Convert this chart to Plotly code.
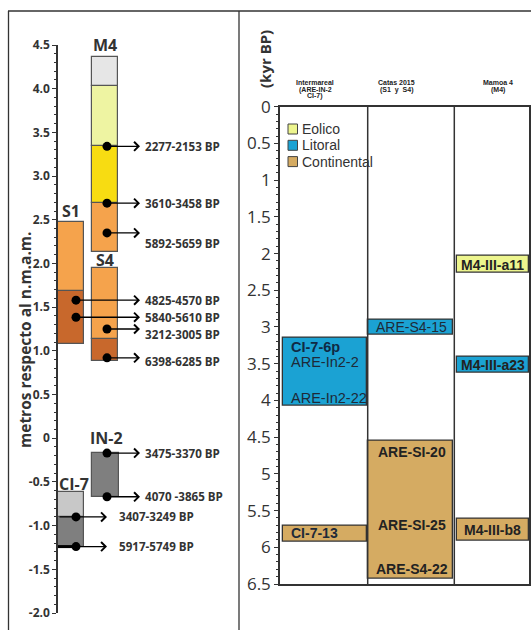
import plotly.graph_objects as go

W, H = 531, 630


def px(x):
    return x / W


def py(y):
    return 1 - y / H


# ---------------- DATA: left panel (cores, metres above MSL) ----------------
layer_core = ["S1", "S1", "S4", "S4", "M4", "M4", "M4", "M4", "IN-2", "CI-7", "CI-7"]
layer_bottom = [1.08, 1.685, 0.885, 1.14, 2.135, 2.69, 3.34, 4.03, -0.67, -1.24, -0.90]
layer_top = [1.685, 2.48, 1.14, 1.945, 2.69, 3.34, 4.03, 4.36, -0.165, -0.90, -0.62]
layer_unit = ["dark", "light", "dark", "light", "light", "yellow", "pale", "grey",
              "greydark", "greydark", "greylight"]

date_core = ["M4", "M4", "M4", "S1", "S1", "S4", "S4", "IN-2", "IN-2", "CI-7", "CI-7"]
date_depth = [3.34, 2.69, 2.35, 1.58, 1.385, 1.25, 0.92, -0.17, -0.67, -0.90, -1.24]
date_label = ["2277-2153 BP", "3610-3458 BP", "5892-5659 BP", "4825-4570 BP",
              "5840-5610 BP", "3212-3005 BP", "6398-6285 BP", "3475-3370 BP",
              "4070 -3865 BP", "3407-3249 BP", "5917-5749 BP"]

left_ticks = [-2.0, -1.5, -1.0, -0.5, 0, 0.5, 1.0, 1.5, 2.0, 2.5, 3.0, 3.5, 4.0, 4.5]
left_ticktext = ["-2.0", "-1.5", "-1.0", "-0.5", "0", "0.5", "1.0", "1.5", "2.0",
                 "2.5", "3.0", "3.5", "4.0", "4.5"]

# ---------------- DATA: right panel (ages, kyr BP) ----------------
sites = ["Intermareal", "Catas", "Mamoa"]
site_header = [["Intermareal", "(ARE-IN-2", "CI-7)"], ["Catas 2015", "(S1  y  S4)"],
               ["Mamoa 4", "(M4)"]]
sample_site = ["Intermareal", "Intermareal", "Catas", "Catas", "Mamoa", "Mamoa", "Mamoa"]
sample_facies = ["Litoral", "Continental", "Litoral", "Continental", "Eolico", "Litoral", "Continental"]
age_start = [3.15, 5.70, 2.90, 4.55, 2.03, 3.41, 5.61]
age_end = [4.07, 5.93, 3.10, 6.43, 2.26, 3.62, 5.91]

label_text = ["CI-7-6p", "ARE-In2-2", "ARE-In2-22", "CI-7-13", "ARE-S4-15",
              "ARE-SI-20", "ARE-SI-25", "ARE-S4-22", "M4-III-a11", "M4-III-a23", "M4-III-b8"]
label_site = ["Intermareal", "Intermareal", "Intermareal", "Intermareal", "Catas",
              "Catas", "Catas", "Catas", "Mamoa", "Mamoa", "Mamoa"]
label_age = [3.27, 3.47, 3.97, 5.81, 3.0, 4.70, 5.70, 6.30, 2.15, 3.52, 5.77]

facies = ["Eolico", "Litoral", "Continental"]

# ---------------- STYLE / POSITIONS (reference pixel units) ----------------
unit_color = {"dark": "#C8682C", "light": "#F5A34C", "yellow": "#F7DC12", "pale": "#EEF4A2",
              "grey": "#E6E6E6", "greydark": "#7F7F7F", "greylight": "#C8C8C8"}
facies_color = {"Eolico": "#EDF58E", "Litoral": "#1BA2D3", "Continental": "#D5AB62"}
core_x = {"S1": 71, "CI-7": 71, "S4": 105, "M4": 105, "IN-2": 105}
core_w = {"S1": 26, "CI-7": 26, "S4": 26.6, "M4": 26.6, "IN-2": 27}
core_dot_x = {"S1": 76, "CI-7": 76, "S4": 107, "M4": 107, "IN-2": 107}
core_title_y = {"S1": 2.6, "S4": 2.04, "M4": 4.5, "IN-2": 0.0, "CI-7": -0.52}
core_title_x = {"S1": 71, "S4": 105, "M4": 105, "IN-2": 106, "CI-7": 74}
arrow_tip = {"CI-7": 107}
label_dy = {"5892-5659 BP": -0.12, "4825-4570 BP": 0.0, "5840-5610 BP": -0.005,
            "3212-3005 BP": -0.06, "6398-6285 BP": -0.04}

site_center = {"Intermareal": 325, "Catas": 410.7, "Mamoa": 492.7}
site_width = {"Intermareal": 83.4, "Catas": 84.5, "Mamoa": 72}
site_header_x = {"Intermareal": 315, "Catas": 396, "Mamoa": 498}
label_x = {"CI-7-6p": 289, "ARE-In2-2": 289, "ARE-In2-22": 289, "CI-7-13": 289}
label_bold = {"ARE-In2-2": False, "ARE-In2-22": False, "ARE-S4-15": False}
dividers = [367.7, 454.3]

INK = "#333333"

fig = go.Figure()

# left panel layers
fig.add_trace(go.Bar(
    x=[core_x[c] for c in layer_core],
    y=[t - b for b, t in zip(layer_bottom, layer_top)],
    base=layer_bottom,
    width=[core_w[c] for c in layer_core],
    marker=dict(color=[unit_color[u] for u in layer_unit], line=dict(color="#555555", width=1.2)),
    xaxis="x", yaxis="y", hoverinfo="skip"))

# dots
fig.add_trace(go.Scatter(
    x=[core_dot_x[c] for c in date_core], y=date_depth, mode="markers",
    marker=dict(color="black", size=9), xaxis="x", yaxis="y", hoverinfo="skip"))

annotations = []
shapes = []

# thick base line of CI-7
shapes.append(dict(type="line", xref="x", yref="y", x0=core_x["CI-7"] - core_w["CI-7"] / 2,
                   x1=core_dot_x["CI-7"], y0=date_depth[-1], y1=date_depth[-1],
                   line=dict(color="black", width=3)))

for c, d, lab in zip(date_core, date_depth, date_label):
    tip = arrow_tip.get(c, 140)
    start = core_x[c] - core_w[c] / 2 if c == "CI-7" else core_dot_x[c]
    annotations.append(dict(x=tip, y=d, xref="x", yref="y", ax=start,
                            ay=d, axref="x", ayref="y", text="", showarrow=True,
                            arrowhead=4, arrowsize=1.25, arrowwidth=1.4, arrowcolor="black"))
    annotations.append(dict(x=tip + (10 if c == "CI-7" else 3), y=d + label_dy.get(lab, 0),
                            xref="x", yref="y", text=lab, showarrow=False, xanchor="left",
                            font=dict(family="Open Sans", size=11.6, color=INK, weight="bold")))

for c in core_title_y:
    annotations.append(dict(x=core_title_x[c], y=core_title_y[c], xref="x", yref="y", text=c,
                            showarrow=False, font=dict(family="Open Sans", size=16, color=INK,
                                                       weight="bold")))

annotations.append(dict(x=px(25), y=py(340), xref="paper", yref="paper",
                        text="metros respecto al n.m.a.m.", textangle=-90, showarrow=False,
                        xanchor="center", yanchor="middle",
                        font=dict(family="Open Sans", size=15.5, color=INK, weight="bold")))

# right panel bars
fig.add_trace(go.Bar(
    x=[site_center[s] for s in sample_site],
    y=[e - s for s, e in zip(age_start, age_end)],
    base=age_start,
    width=[site_width[s] for s in sample_site],
    marker=dict(color=[facies_color[f] for f in sample_facies], line=dict(color=INK, width=1.3)),
    xaxis="x2", yaxis="y2", hoverinfo="skip"))

for t, s, a in zip(label_text, label_site, label_age):
    bold = label_bold.get(t, True)
    col = "#102A44" if t == "CI-7-6p" else ("#1E2A38" if s == "Intermareal" or t == "ARE-S4-15" else "#222222")
    size = 14.5 if (s == "Intermareal" and t != "CI-7-13") else 14
    if t in label_x:
        annotations.append(dict(x=label_x[t], y=a, xref="x2", yref="y2", text=t, showarrow=False,
                                xanchor="left",
                                font=dict(family="Liberation Sans", size=size,
                                          color=col, weight="bold" if bold else "normal")))
    else:
        annotations.append(dict(x=site_center[s] + (1 if s == "Catas" else 0), y=a, xref="x2",
                                yref="y2", text=t, showarrow=False,
                                font=dict(family="Liberation Sans", size=size, color=col,
                                          weight="bold" if bold else "normal")))

for s, lines in zip(sites, site_header):
    for i, ln in enumerate(lines):
        annotations.append(dict(x=site_header_x[s], y=py(83 + 6.6 * i), xref="x2", yref="paper",
                                text=ln, showarrow=False, yanchor="middle",
                                font=dict(family="Liberation Sans", size=7, color="#222222",
                                          weight="bold")))

for xv in dividers:
    shapes.append(dict(type="line", xref="x2", yref="y2", x0=xv, x1=xv, y0=0, y1=6.5,
                       line=dict(color=INK, width=1.5)))

# legend
for i, f in enumerate(facies):
    yc = 129 + 16.3 * i
    shapes.append(dict(type="rect", xref="paper", yref="paper", x0=px(288), x1=px(297.5),
                       y0=py(yc + 5), y1=py(yc - 5), fillcolor=facies_color[f],
                       line=dict(color="#444444", width=1)))
    annotations.append(dict(x=px(300), y=py(yc), xref="paper", yref="paper", text=f,
                            showarrow=False, xanchor="left", yanchor="middle",
                            font=dict(family="Liberation Sans", size=14, color=INK)))

annotations.append(dict(x=px(265), y=py(59), xref="paper", yref="paper", text="(kyr BP)",
                        textangle=-90, showarrow=False, xanchor="center", yanchor="middle",
                        font=dict(family="Open Sans", size=15, color=INK, weight="bold")))

# figure frame
shapes += [
    dict(type="line", xref="paper", yref="paper", x0=px(8), x1=1, y0=py(11), y1=py(11),
         line=dict(color=INK, width=1.3)),
    dict(type="line", xref="paper", yref="paper", x0=px(8.5), x1=px(8.5), y0=0, y1=py(11),
         line=dict(color=INK, width=1.3)),
    dict(type="line", xref="paper", yref="paper", x0=px(239), x1=px(239), y0=0, y1=py(11),
         line=dict(color=INK, width=1.3)),
]

fig.update_layout(
    width=W, height=H, margin=dict(l=0, r=0, t=0, b=0, autoexpand=False),
    autosize=False,
    paper_bgcolor="white", plot_bgcolor="rgba(0,0,0,0)",
    showlegend=False, barmode="overlay", bargap=0,
    xaxis=dict(domain=[px(58), px(237)], range=[58, 237], visible=False, fixedrange=True,
               automargin=False),
    yaxis=dict(domain=[py(613), py(45)], range=[-2.0, 4.5], showgrid=False, automargin=False,
               zeroline=False, showline=True, linecolor=INK, linewidth=1.5,
               ticks="outside", ticklen=4, tickcolor=INK, tickvals=left_ticks,
               ticktext=left_ticktext,
               tickfont=dict(family="Open Sans", size=12, color=INK, weight="bold"),
               minor=dict(dtick=0.1, tick0=0, ticks="outside", ticklen=2.5, tickcolor=INK)),
    xaxis2=dict(domain=[px(280), px(529.3)], range=[280, 529.3], showgrid=False, zeroline=False,
                showline=True, mirror=True, linecolor=INK, linewidth=1.5, showticklabels=False,
                ticks="", anchor="y2", automargin=False),
    yaxis2=dict(domain=[py(584), py(106.7)], range=[6.5, 0], showgrid=False, automargin=False,
                zeroline=False, showline=True, mirror=True, linecolor=INK, linewidth=1.5,
                ticks="outside", ticklen=4, tickcolor=INK, dtick=0.5, tick0=0, anchor="x2",
                tickfont=dict(family="Open Sans", size=17, color=INK),
                minor=dict(dtick=0.1, tick0=0, ticks="outside", ticklen=2.5, tickcolor=INK)),
    annotations=annotations, shapes=shapes,
)

fig.write_html(
    "out.html",
    config={"displayModeBar": False},
    post_script="document.body.style.margin='0px';document.body.style.overflow='hidden';",
)
